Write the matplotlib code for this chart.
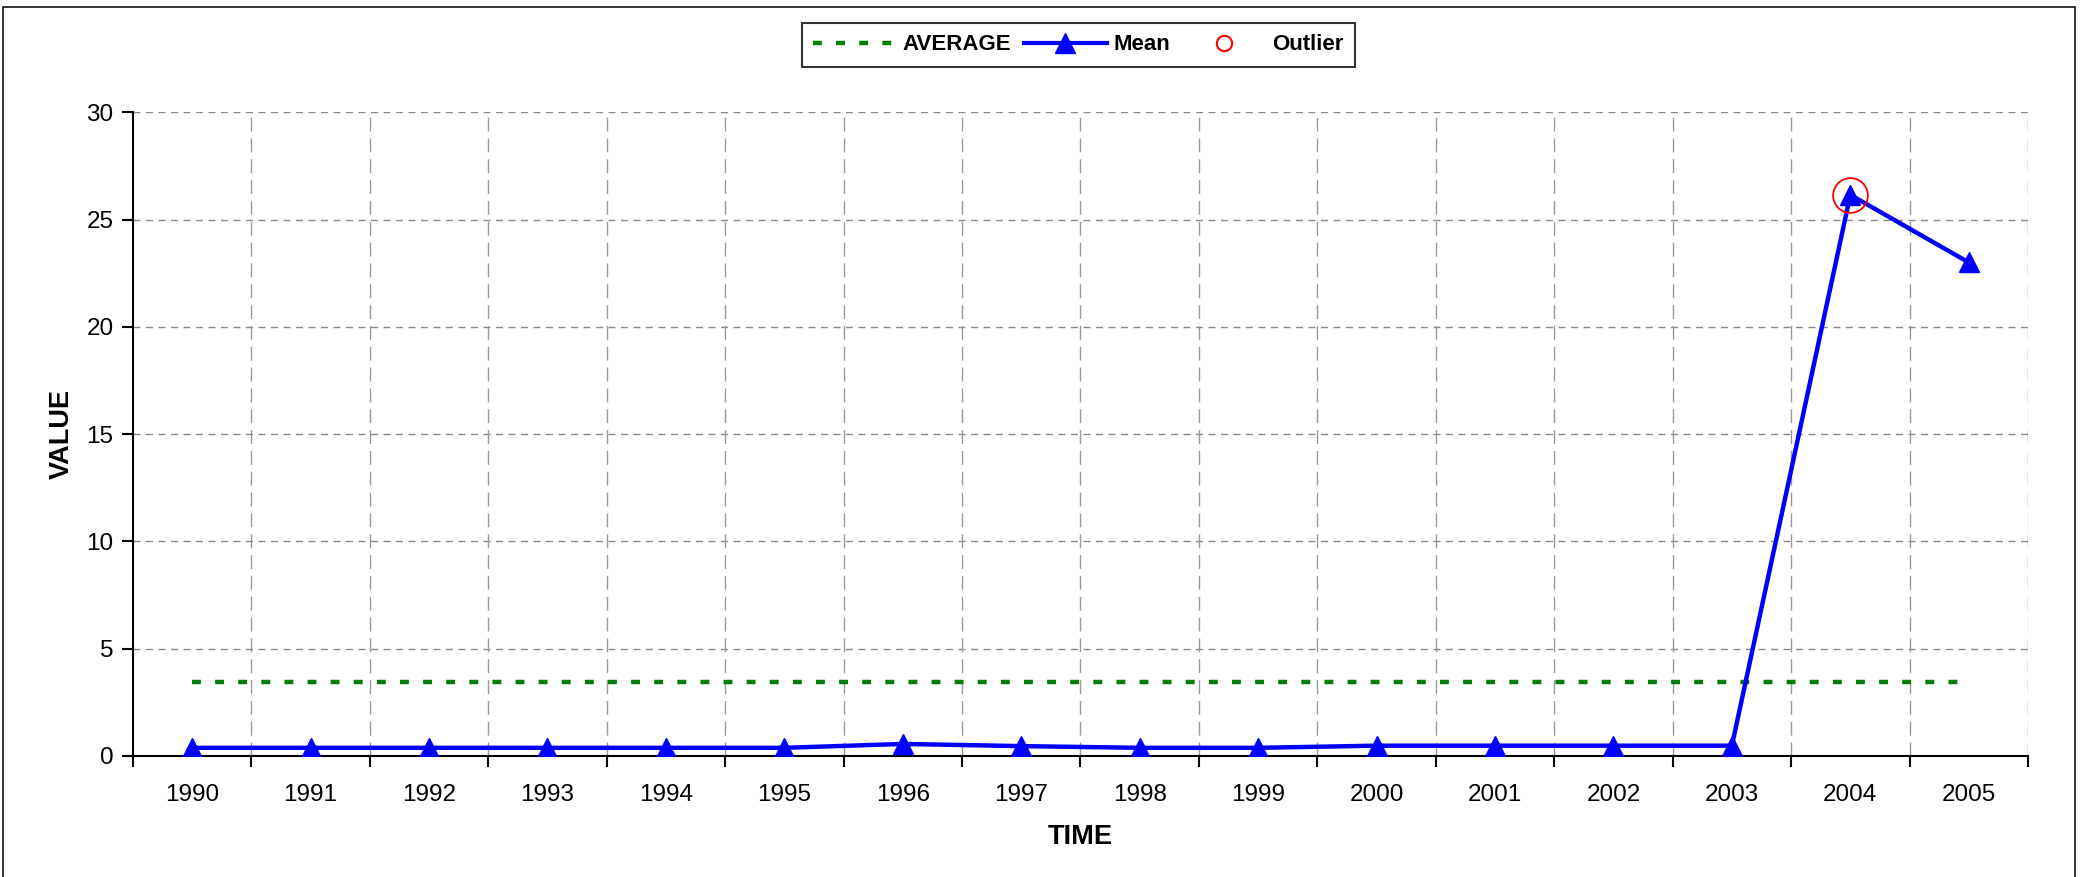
import matplotlib
matplotlib.use("Agg")
import matplotlib.pyplot as plt
from matplotlib.lines import Line2D
from matplotlib.patches import Rectangle
import numpy as np

plt.rcParams['font.family'] = ['Liberation Sans', 'DejaVu Sans']

# data
years = ['1990', '1991', '1992', '1993', '1994', '1995', '1996', '1997',
         '1998', '1999', '2000', '2001', '2002', '2003', '2004', '2005']
mean_vals = [0.38, 0.38, 0.38, 0.38, 0.38, 0.38, 0.56, 0.46,
             0.38, 0.38, 0.48, 0.48, 0.48, 0.48, 26.15, 23.0]
average_val = 3.45
outlier_year = '2004'
outlier_val = 26.15

y_ticks = [0, 5, 10, 15, 20, 25, 30]

fig = plt.figure(figsize=(20.8, 8.77), dpi=100)
ax = fig.add_axes([0.0639, 0.138, 0.9111, 0.734])

x = np.arange(len(years))
avg_series = [average_val] * len(years)
out_x = years.index(outlier_year)

# grid first
for yv in y_ticks[1:]:
    ax.axhline(yv, color='#888888', lw=1.0, dashes=(5, 4), zorder=0)
for xb in np.arange(0.5, len(years) + 0.5, 1.0):
    ax.axvline(xb, color='#999999', lw=1.0, dashes=(10, 5), zorder=0)

ax.plot(x, avg_series, color='#008000', lw=3.2, dashes=(2.0, 3.2),
        dash_capstyle='butt', zorder=2)
ax.plot(x, mean_vals, color='#0000FF', lw=3.2, marker='^', markersize=15,
        zorder=3)
ax.plot([out_x], [outlier_val], linestyle='none', marker='o', markersize=25,
        markerfacecolor='none', markeredgecolor='#FF0000', markeredgewidth=1.3,
        zorder=4)

ax.set_xlim(-0.5, len(years) - 0.5)
ax.set_ylim(0, 30)

ax.set_xticks(x)
ax.set_xticklabels(years)
ax.set_xticks(np.arange(-0.5, len(years), 1.0), minor=True)
ax.tick_params(axis='x', which='major', length=0, pad=20, labelsize=17.5)
ax.tick_params(axis='x', which='minor', length=8, width=1.5, direction='out')
ax.set_yticks(y_ticks)
ax.tick_params(axis='y', length=8, width=1.5, direction='out', pad=6,
               labelsize=17.5)

for side in ['top', 'right']:
    ax.spines[side].set_visible(False)
for side in ['left', 'bottom']:
    ax.spines[side].set_linewidth(1.5)

ax.set_xlabel('TIME', fontsize=19.5, fontweight='bold', labelpad=13)
ax.set_ylabel('VALUE', fontsize=19.5, fontweight='bold', labelpad=8)

handles = [
    Line2D([], [], color='#008000', lw=3.2, dashes=(2.0, 3.2)),
    Line2D([], [], color='#0000FF', lw=3.0, marker='^', markersize=14),
    Line2D([], [], linestyle='none', marker='o', markersize=11,
           markerfacecolor='none', markeredgecolor='#FF0000',
           markeredgewidth=1.5),
]
leg = fig.legend(handles, ['AVERAGE', 'Mean', 'Outlier'], loc='center',
                 bbox_to_anchor=(0.5185, 0.9487), ncol=3, frameon=True,
                 fancybox=False, prop={'weight': 'bold', 'size': 16},
                 handlelength=3.7, handletextpad=0.3, columnspacing=0.6,
                 borderpad=0.5, borderaxespad=0)
leg.get_frame().set_edgecolor('black')
leg.get_frame().set_linewidth(1.5)

# outer border (no bottom edge visible)
fig.add_artist(Rectangle((3 / 2080, -0.05), (2075 - 3) / 2080, 1 - 7 / 877 + 0.05,
                         transform=fig.transFigure, fill=False,
                         edgecolor='black', lw=1.1))

fig.savefig('out.png', dpi=100)
